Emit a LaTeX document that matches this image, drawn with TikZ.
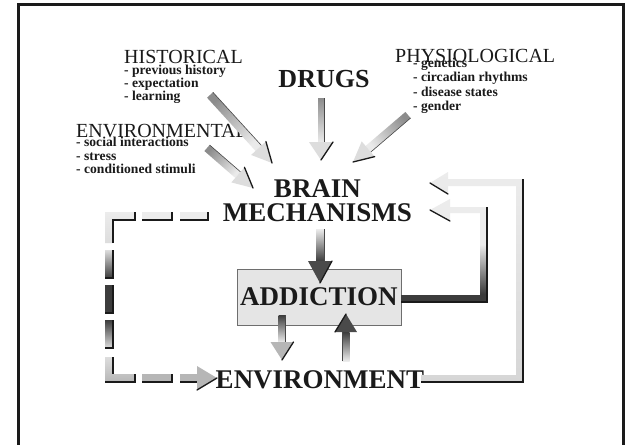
\documentclass[tikz,border=0pt]{standalone}
\usepackage{fontspec}
\setmainfont{Liberation Serif}
\usetikzlibrary{calc}
\definecolor{ink}{HTML}{1A1A1A}
\definecolor{dk}{HTML}{3C3C3C}
\definecolor{lt}{HTML}{ECECEC}
\definecolor{ga}{HTML}{8C8C8C}
\definecolor{gb}{HTML}{EAEAEA}
\definecolor{gh}{HTML}{DDDDDD}
\definecolor{gm}{HTML}{B6B6B6}
\definecolor{hd}{HTML}{4A4A4A}
\definecolor{ol}{HTML}{D6D6D6}
\definecolor{boxfill}{HTML}{E5E5E5}
\definecolor{boxline}{HTML}{6E6E6E}
\pgfdeclareverticalshading{rloop}{100bp}{color(0bp)=(dk); color(29bp)=(dk); color(53bp)=(lt); color(100bp)=(lt)}
\tikzset{
  ttl/.style={inner sep=0pt, text=ink, font=\fontsize{20}{20}\selectfont},
  itm/.style={inner sep=0pt, text=ink, font=\bfseries\fontsize{13.6}{13.6}\selectfont},
  big/.style={inner sep=0pt, text=ink, font=\bfseries\fontsize{27}{27}\selectfont},
  shaftedge/.style={draw=ink!80, line width=0.6pt},
  headedge/.style={draw=ink, line width=1.3pt, line cap=round},
  shadowl/.style={draw=ink, line width=1.2pt},
  addbox/.style={draw=boxline, line width=0.8pt, fill=boxfill, minimum width=164pt, minimum height=56pt, inner sep=0pt}
}
% start, tip, shaft half width, head length, head half width, start colour, end colour, head colour, shading angle
\newcommand\grarrow[9]{%
  \coordinate (tmpb) at ($(#2)!#4!(#1)$);
  \shade[top color=#6, bottom color=#7, shading angle=#9]
    ($(#1)!#3!90:(#2)$) -- ($(tmpb)!#3!90:(#2)$) -- ($(tmpb)!#3!-90:(#2)$) -- ($(#1)!#3!-90:(#2)$) -- cycle;
  \draw[shaftedge] ($(#1)!#3!90:(#2)$) -- ($(tmpb)!#3!90:(#2)$);
  \fill[#8] ($(tmpb)!#5!90:(#2)$) -- (#2) -- ($(tmpb)!#5!-90:(#2)$) -- cycle;
  \draw[headedge] ($(tmpb)!#5!90:(#2)$) -- (#2);
}
\newcommand\dashpiece[6]{%
  \shade[top color=#5, bottom color=#6] (#1,#2) rectangle (#3,#4);
  \draw[shadowl] (#3,#2) -- (#3,#4) -- (#1,#4);
}
\begin{document}
\begin{tikzpicture}[x=1pt,y=-1pt]
\useasboundingbox (0,0) rectangle (633,445);
\clip (0,0) rectangle (633,445);
\fill[white] (0,0) rectangle (633,445);
\draw[line width=3pt, draw=ink] (18.5,4.7) rectangle (623.5,480);

% texts
\node[ttl,anchor=base west] (hist) at (124,63.3) {HISTORICAL};
\foreach \t [count=\i] in {previous history, expectation, learning}
  \node[itm,anchor=base west] (hist\i) at (124,{74+13.4*(\i-1)}) {- \t};
\node[ttl,anchor=base west] (envt) at (76,137) {ENVIRONMENTAL};
\foreach \t [count=\i] in {social interactions, stress, conditioned stimuli}
  \node[itm,anchor=base west] (envt\i) at (76,{146.7+13.6*(\i-1)}) {- \t};
\node[ttl,anchor=base west] (phys) at (395,62) {PHYSIOLOGICAL};
\foreach \t [count=\i] in {genetics, circadian rhythms, disease states, gender}
  \node[itm,anchor=base west] (phys\i) at (413,{67.5+14.3*(\i-1)}) {- \t};
\node[big,anchor=base,font=\bfseries\fontsize{26}{26}\selectfont] (drugs) at (324,87) {DRUGS};
\node[big,anchor=base] (brain) at (317.5,197) {BRAIN};
\node[big,anchor=base] (mech) at (317.5,221) {MECHANISMS};
\node[addbox] (addbox) at (319,297) {};
\node[big,anchor=base] (add) at (319,305) {ADDICTION};
\node[big,anchor=base] (envr) at (320,388) {ENVIRONMENT};

% straight arrows
\coordinate (hs) at (210,95);   \coordinate (ht) at (272,163);
\coordinate (es) at (207,148);  \coordinate (et) at (253,188);
\coordinate (ds) at (321,98);   \coordinate (dt) at (321,160);
\coordinate (ps) at (408,115);  \coordinate (pt) at (353,162);
\coordinate (bs) at (320,229);  \coordinate (bt) at (320,283);
\coordinate (as) at (282,315);  \coordinate (at) at (282,360);
\coordinate (vs) at (346,361);  \coordinate (vt) at (346,314);
\grarrow{hs}{ht}{4pt}{20pt}{10pt}{ga}{gb}{gh}{42}
\grarrow{es}{et}{4pt}{20pt}{10pt}{ga}{gb}{gh}{49}
\grarrow{ds}{dt}{3pt}{18pt}{12pt}{ga}{gb}{gh}{0}
\grarrow{ps}{pt}{4pt}{20pt}{10pt}{ga}{gb}{gh}{-49.5}
\grarrow{bs}{bt}{4pt}{22pt}{12pt}{lt}{dk}{hd}{0}
\grarrow{as}{at}{3.5pt}{18pt}{11.5pt}{dk}{gb}{gm}{0}
\grarrow{vs}{vt}{3.5pt}{18pt}{11pt}{lt}{dk}{hd}{180}

% right loop: ADDICTION -> BRAIN MECHANISMS
\coordinate (r0) at (401,295);
\coordinate (rt) at (430,210);
\shade[shading=rloop] (r0) -- (480,295) -- (480,213) -- (450,213) -- (450,221) -- (rt)
  -- (450,199) -- (450,207) -- (487,207) -- (487,302) -- (401,302) -- cycle;
\draw[shadowl] (487,207) -- (487,302) -- (401,302);
\draw[headedge] (450,221) -- (rt);

% outer loop: ENVIRONMENT -> BRAIN MECHANISMS
\coordinate (o0) at (421,375);
\coordinate (ot) at (430,183);
\shade[top color=lt, bottom color=ol] (o0) -- (516,375) -- (516,186) -- (448,186) -- (448,194) -- (ot)
  -- (448,172) -- (448,179) -- (523,179) -- (523,382) -- (421,382) -- cycle;
\draw[shadowl] (523,179) -- (523,382) -- (421,382);
\draw[headedge] (448,194) -- (ot);

% dashed loop: BRAIN MECHANISMS -> ENVIRONMENT
\shade[top color=lt, bottom color=gh] (105,212) -- (135,212) -- (135,220) -- (113,220) -- (113,243) -- (105,243) -- cycle;
\draw[shadowl] (135,212) -- (135,220) -- (113,220) -- (113,243);
\dashpiece{142}{212}{172}{220}{lt}{lt}
\dashpiece{180}{212}{208}{220}{lt}{lt}
\dashpiece{105}{250}{113}{278}{gh}{dk}
\dashpiece{105}{285}{113}{313}{dk}{dk}
\dashpiece{105}{320}{113}{348}{dk}{gh}
\shade[top color=gh, bottom color=gm] (105,357) -- (113,357) -- (113,374) -- (135,374) -- (135,382) -- (105,382) -- cycle;
\draw[shadowl] (113,357) -- (113,374);
\draw[shadowl] (135,374) -- (135,382) -- (105,382);
\dashpiece{142}{374}{172}{382}{gm}{gm}
\coordinate (lt0) at (180,374);
\coordinate (ltip) at (217,378);
\fill[gm] (lt0) rectangle (197,382);
\draw[shadowl] (180,382) -- (197,382);
\fill[gm] (197,366) -- (ltip) -- (197,390) -- cycle;
\draw[headedge] (197,390) -- (ltip);
\end{tikzpicture}
\end{document}
